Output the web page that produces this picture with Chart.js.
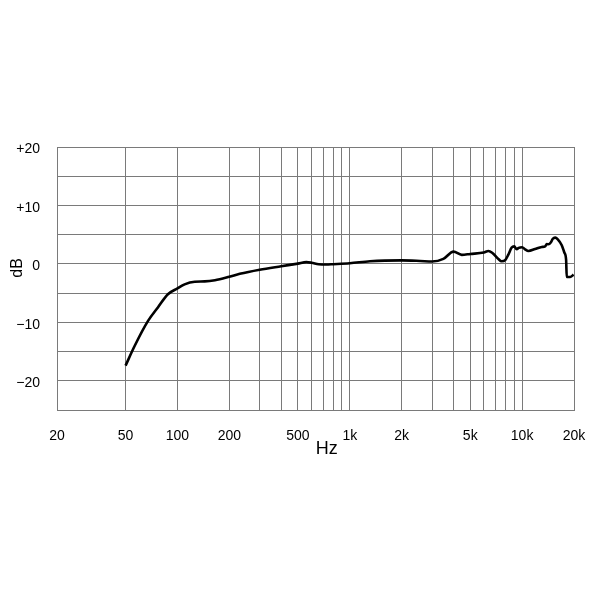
<!DOCTYPE html>
<html>
<head>
<meta charset="utf-8">
<script src="https://cdn.jsdelivr.net/npm/chart.js@4"></script>
<style>
  html, body { margin: 0; padding: 0; background: #fff; }
  #wrap { width: 600px; height: 600px; }
</style>
</head>
<body>
<div id="wrap"><canvas id="c" width="600" height="600"></canvas></div>
<script>
// Frequency response data (Hz, dB)
const freqs = [50, 56.5, 67.5, 77, 88, 100, 110, 126, 144, 165, 200, 230, 300, 400, 500, 560, 600, 660, 730, 800, 1000, 1310, 2000, 2560, 3000, 3490, 4000, 4460, 5000, 6000, 6370, 6700, 7280, 7600, 8000, 8320, 8700, 9000, 9300, 9550, 10000, 10400, 10870, 11890, 13000, 13600, 13900, 14200, 14700, 15070, 15550, 16100, 16980, 17600, 18000, 18150, 19000, 19900];
const levels = [-17.4, -14.0, -9.75, -7.45, -5.2, -4.2, -3.5, -3.05, -3.0, -2.8, -2.2, -1.7, -1.0, -0.4, 0.05, 0.3, 0.2, -0.05, -0.1, -0.05, 0.1, 0.45, 0.6, 0.5, 0.4, 0.85, 2.1, 1.55, 1.7, 1.95, 2.2, 1.9, 0.85, 0.45, 0.7, 1.6, 2.8, 3.0, 2.5, 2.75, 2.85, 2.5, 2.2, 2.55, 2.9, 3.0, 3.4, 3.35, 3.7, 4.3, 4.5, 4.2, 3.2, 1.9, 0.7, -2.25, -2.25, -1.85];

// Axis grid / tick values
const xGridValues = [20, 50, 100, 200, 300, 400, 500, 600, 700, 800, 900, 1000, 2000, 3000, 4000, 5000, 6000, 7000, 8000, 9000, 10000, 20000];
const xLabelValues = [20, 50, 100, 200, 500, 1000, 2000, 5000, 10000, 20000];
const xLabelTexts = ['20', '50', '100', '200', '500', '1k', '2k', '5k', '10k', '20k'];
const yMin = -25, yMax = 20, yStep = 5;
const yLabelValues = [20, 10, 0, -10, -20];
const yLabelTexts = ['+20', '+10', '0', '\u221210', '\u221220'];
const xTitle = 'Hz';
const yTitle = 'dB';

const gridColor = '#7a7a7a';
const fontFamily = '"Liberation Sans", Arial, Helvetica, sans-serif';

const titlePlugin = {
  id: 'axisTitles',
  afterDraw(chart) {
    const ctx = chart.ctx;
    const a = chart.chartArea;
    ctx.save();
    ctx.fillStyle = '#000';
    ctx.textAlign = 'center';
    ctx.textBaseline = 'middle';
    ctx.font = '18px ' + fontFamily;
    ctx.fillText(xTitle, a.left + (a.right - a.left) * 0.522, a.bottom + 39);
    ctx.translate(18, a.top + (a.bottom - a.top) * 0.46);
    ctx.rotate(-Math.PI / 2);
    ctx.font = '16px ' + fontFamily;
    ctx.fillText(yTitle, 0, 0);
    ctx.restore();
  }
};

new Chart(document.getElementById('c'), {
  type: 'line',
  data: {
    datasets: [{
      data: freqs.map((f, i) => ({ x: f, y: levels[i] })),
      borderColor: '#000',
      borderWidth: 2.6,
      pointRadius: 0,
      fill: false,
      cubicInterpolationMode: 'monotone'
    }]
  },
  options: {
    responsive: false,
    animation: false,
    devicePixelRatio: 1,
    layout: { padding: { left: 0, top: 147, right: 26, bottom: 150 } },
    plugins: { legend: { display: false }, tooltip: { enabled: false } },
    scales: {
      x: {
        type: 'logarithmic',
        min: 20,
        max: 20000,
        afterBuildTicks(scale) {
          scale.ticks = xGridValues.map(v => ({ value: v }));
        },
        afterFit(scale) {
          scale.height = 40;
          scale.paddingLeft = 0;
          scale.paddingRight = 0;
        },
        ticks: {
          autoSkip: false,
          maxRotation: 0,
          padding: 18,
          color: '#000',
          font: { family: fontFamily, size: 14 },
          callback(value) {
            const i = xLabelValues.indexOf(value);
            return i >= 0 ? xLabelTexts[i] : '';
          }
        },
        grid: { color: gridColor, lineWidth: 1, drawTicks: false },
        border: { color: gridColor, width: 1 }
      },
      y: {
        type: 'linear',
        min: yMin,
        max: yMax,
        afterFit(scale) { scale.width = 57; },
        ticks: {
          stepSize: yStep,
          autoSkip: false,
          padding: 17,
          labelOffset: 2.5,
          color: '#000',
          font: { family: fontFamily, size: 14 },
          callback(value) {
            const i = yLabelValues.indexOf(value);
            return i >= 0 ? yLabelTexts[i] : '';
          }
        },
        grid: { color: gridColor, lineWidth: 1, drawTicks: false },
        border: { color: gridColor, width: 1 }
      }
    }
  },
  plugins: [titlePlugin]
});
</script>
</body>
</html>
